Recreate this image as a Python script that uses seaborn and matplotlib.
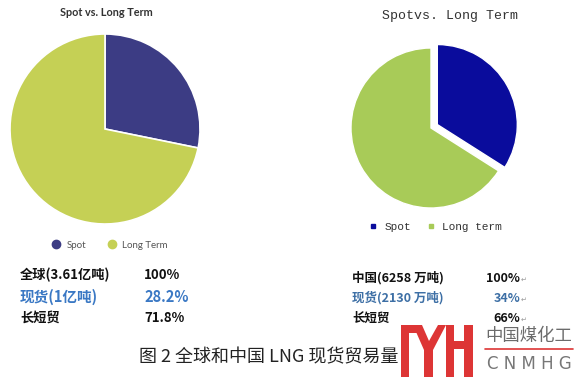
import matplotlib

matplotlib.use("Agg")
import matplotlib.pyplot as plt
from matplotlib.lines import Line2D
from matplotlib.patches import Polygon
import seaborn as sns

# data
world_labels = ["Spot", "Long Term"]
world_share = [28.2, 71.8]
china_labels = ["Spot", "Long term"]
china_share = [34, 66]

world_rows = ["全球(3.61亿吨)", "现货(1亿吨)", "长短贸"]
world_pcts = ["100%", "28.2%", "71.8%"]
china_rows = ["中国(6258 万吨)", "现货(2130 万吨)", "长短贸"]
china_pcts = ["100%", "34%", "66%"]

caption = "图 2 全球和中国 LNG 现货贸易量"

sns.set_theme(style="white")
plt.rcParams["font.family"] = ["Noto Sans CJK SC", "DejaVu Sans"]

W, H = 580, 381
fig = plt.figure(figsize=(5.8, 3.81), dpi=100)


def fx(px):
    return px / W


def fy(py):
    return 1 - py / H


def axes_px(x0, y0, w, h):
    return fig.add_axes([fx(x0), fy(y0 + h), w / W, h / H])


# left pie
world_colors = ["#3c3c84", "#c5d055"]
ax1 = axes_px(10, 34, 190, 190)
ax1.pie(world_share, colors=world_colors, startangle=90, counterclock=False,
        wedgeprops=dict(edgecolor="white", linewidth=1.2))
ax1.set_xlim(-1, 1)
ax1.set_ylim(-1, 1)
ax1.set_aspect("equal")
ax1.axis("off")
fig.text(fx(106), fy(12), "Spot vs. Long Term", family="Lato", weight="bold",
         fontsize=7.8, color="#333333", ha="center", va="center")
handles1 = [Line2D([], [], marker="o", ls="", markersize=6, color=c) for c in world_colors]
leg1 = fig.legend(handles1, world_labels, loc="center", bbox_to_anchor=(fx(107), fy(245)),
                  ncol=2, frameon=False, handletextpad=0.1, columnspacing=1.6,
                  prop=dict(family="Lato", size=7))
for t in leg1.get_texts():
    t.set_color("#555555")

# right pie
china_colors = ["#0a0c9c", "#a8cb58"]
ax2 = axes_px(339, 36, 184, 184)
ax2.pie(china_share, colors=china_colors, startangle=90, counterclock=False,
        explode=[0.09, 0])
ax2.set_xlim(-1.15, 1.15)
ax2.set_ylim(-1.15, 1.15)
ax2.set_aspect("equal")
ax2.axis("off")
fig.text(fx(450), fy(16), "Spotvs. Long Term", family="Liberation Mono",
         fontsize=9.5, color="#333333", ha="center", va="center")
handles2 = [Line2D([], [], marker="s", ls="", markersize=3, color=c) for c in china_colors]
leg2 = fig.legend(handles2, china_labels, loc="center", bbox_to_anchor=(fx(432), fy(227)),
                  ncol=2, frameon=False, handletextpad=0.0, columnspacing=0.8,
                  prop=dict(family="Liberation Mono", size=8))
for t in leg2.get_texts():
    t.set_color("#333333")

# tables under the pies
left_y = [275, 297, 318]
left_colors = ["#111111", "#3a78c4", "#111111"]
left_sizes = [9.5, 10.5, 9.5]
for name, pct, y, c, s in zip(world_rows, world_pcts, left_y, left_colors, left_sizes):
    fig.text(fx(20), fy(y), name, color=c, fontsize=s, weight="bold", va="center")
    fig.text(fx(144), fy(y), pct, color=c, fontsize=s, weight="bold", va="center")

right_y = [278, 298, 318]
right_colors = ["#111111", "#3d6fa5", "#111111"]
for name, pct, y, c in zip(china_rows, china_pcts, right_y, right_colors):
    fig.text(fx(352), fy(y), name, color=c, fontsize=9, weight="bold", va="center")
    fig.text(fx(520), fy(y), pct, color=c, fontsize=9, weight="bold", va="center", ha="right")
    fig.text(fx(521), fy(y + 2), "↵", color="#999999", fontsize=5, va="center",
             family="DejaVu Sans")

# caption
fig.text(fx(139), fy(357), caption, fontsize=13, color="#222222", va="center")

# watermark logo
red = "#dd3535"
shapes = [
    [(401, 325), (409, 325), (409, 377), (401, 377)],
    [(401, 325), (420, 325), (420, 333), (401, 333)],
    [(413, 325), (422, 325), (429, 341), (438, 325), (446, 325), (433, 350),
     (433, 377), (424, 377), (424, 350)],
    [(446, 325), (454, 325), (454, 341), (464, 341), (464, 325), (473, 325),
     (473, 377), (464, 377), (464, 349), (454, 349), (454, 377), (446, 377)],
]
for pts in shapes:
    fig.add_artist(Polygon([(fx(x), fy(y)) for x, y in pts], closed=True,
                           transform=fig.transFigure, facecolor=red,
                           edgecolor="none", zorder=10))
fig.add_artist(Line2D([fx(485), fx(573)], [fy(349), fy(349)], color=red, lw=1.2,
                      transform=fig.transFigure, zorder=10))
fig.text(fx(529), fy(336), "中国煤化工", fontsize=12.5, color="#6b6b6b",
         ha="center", va="center", zorder=11)
fig.text(fx(529), fy(364), "C N M H G", fontsize=12, color="#777777",
         ha="center", va="center", family="DejaVu Sans", zorder=11)

fig.savefig("out.png", dpi=100, facecolor="white")
